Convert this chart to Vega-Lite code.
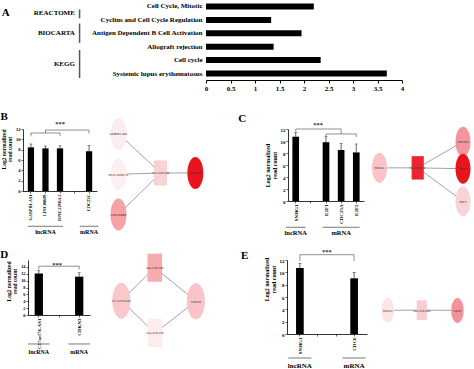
{
  "$schema": "https://vega.github.io/schema/vega-lite/v6.json",
  "padding": 0,
  "background": "white",
  "spacing": 5,
  "datasets": {
    "termA": [
      {"term": "Cell Cycle, Mitotic", "v": 2.2},
      {"term": "Cyclins and Cell Cycle Regulation", "v": 1.33},
      {"term": "Antigen Dependent B Cell Activation", "v": 1.95},
      {"term": "Allograft rejection", "v": 1.38},
      {"term": "Cell cycle", "v": 2.34},
      {"term": "Systemic lupus erythematosus", "v": 3.69}
    ],
    "dbA": [
      {"db": "REACTOME", "mid": 0.04, "lo": -0.24, "hi": 0.46},
      {"db": "BIOCARTA", "mid": 1.62, "lo": 0.88, "hi": 2.43},
      {"db": "KEGG", "mid": 4.1, "lo": 3.0, "hi": 5.24}
    ],
    "B": [
      {"gene": "GABPB1-AS1", "v": 8.45, "hi": 9.1},
      {"gene": "LINC00689", "v": 8.25, "hi": 8.7},
      {"gene": "RP11-529K1.2", "v": 8.25, "hi": 8.75},
      {"gene": "CDC25C", "v": 7.7, "hi": 8.8}
    ],
    "Bbr": [
      {"g": "a", "o": 1, "gene": "GABPB1-AS1", "y": 10.6},
      {"g": "a", "o": 2, "gene": "GABPB1-AS1", "y": 11.23},
      {"g": "a", "o": 3, "gene": "RP11-529K1.2", "y": 11.23},
      {"g": "a", "o": 4, "gene": "RP11-529K1.2", "y": 10.6},
      {"g": "b", "o": 1, "gene": "LINC00689", "y": 11.23},
      {"g": "b", "o": 2, "gene": "LINC00689", "y": 11.8},
      {"g": "b", "o": 3, "gene": "CDC25C", "y": 11.8},
      {"g": "b", "o": 4, "gene": "CDC25C", "y": 11.1}
    ],
    "Bgrp": [
      {"grp": "lncRNA", "from": "GABPB1-AS1", "to": "RP11-529K1.2", "mid": "LINC00689", "n": 3},
      {"grp": "mRNA", "from": "CDC25C", "to": "CDC25C", "mid": "CDC25C", "n": 1}
    ],
    "nodesB": [
      {"id": "GABPB1-AS1", "kind": "gene", "x": 22.5, "y": 5, "score": 0.02},
      {"id": "RP11-529K1.2", "kind": "gene", "x": 22.5, "y": 49, "score": 0},
      {"id": "LINC00689", "kind": "gene", "x": 22.5, "y": 92.5, "score": 0.35},
      {"id": "hsa-miR-23a", "kind": "mirna", "x": 66.5, "y": 47.5, "score": 0.14},
      {"id": "CDC25C", "kind": "gene", "x": 103, "y": 47.5, "score": 0.98}
    ],
    "edgesB": [
      {"s": "GABPB1-AS1", "t": "hsa-miR-23a"},
      {"s": "RP11-529K1.2", "t": "hsa-miR-23a"},
      {"s": "LINC00689", "t": "hsa-miR-23a"},
      {"s": "hsa-miR-23a", "t": "CDC25C"}
    ],
    "C": [
      {"gene": "SNHG1", "v": 10.72, "hi": 11.45},
      {"gene": "E2F1", "v": 9.8, "hi": 10.7},
      {"gene": "CDC25A", "v": 8.5, "hi": 9.6},
      {"gene": "E2F2", "v": 8.1, "hi": 9.5}
    ],
    "Cbr": [
      {"g": "a", "o": 1, "gene": "SNHG1", "y": 11.58},
      {"g": "a", "o": 2, "gene": "SNHG1", "y": 12.0},
      {"g": "a", "o": 3, "gene": "CDC25A", "y": 12.0},
      {"g": "a", "o": 4, "gene": "CDC25A", "y": 11.17},
      {"g": "b", "o": 1, "gene": "E2F1", "y": 10.67},
      {"g": "b", "o": 2, "gene": "E2F1", "y": 11.17},
      {"g": "b", "o": 3, "gene": "E2F2", "y": 11.17},
      {"g": "b", "o": 4, "gene": "E2F2", "y": 10.67}
    ],
    "Cgrp": [
      {"grp": "lncRNA", "from": "SNHG1", "to": "SNHG1", "mid": "SNHG1", "n": 1},
      {"grp": "mRNA", "from": "E2F1", "to": "E2F2", "mid": "CDC25A", "n": 3}
    ],
    "nodesC": [
      {"id": "SNHG1", "kind": "gene", "x": 15.5, "y": 42, "score": 0.2},
      {"id": "hsa-miR-16", "kind": "mirna", "x": 53.7, "y": 42, "score": 0.9},
      {"id": "CDC25A", "kind": "gene", "x": 99, "y": 13.7, "score": 0.4},
      {"id": "E2F1", "kind": "gene", "x": 99, "y": 43, "score": 0.98},
      {"id": "E2F2", "kind": "gene", "x": 99, "y": 78, "score": 0.13}
    ],
    "edgesC": [
      {"s": "SNHG1", "t": "hsa-miR-16"},
      {"s": "hsa-miR-16", "t": "CDC25A"},
      {"s": "hsa-miR-16", "t": "E2F1"},
      {"s": "hsa-miR-16", "t": "E2F2"}
    ],
    "D": [
      {"gene": "C17orf76-AS1", "v": 12.05, "hi": 12.9},
      {"gene": "CDKN3", "v": 11.15, "hi": 12.3}
    ],
    "Dbr": [
      {"g": "a", "o": 1, "gene": "C17orf76-AS1", "y": 13.26},
      {"g": "a", "o": 2, "gene": "C17orf76-AS1", "y": 14.2},
      {"g": "a", "o": 3, "gene": "CDKN3", "y": 14.2},
      {"g": "a", "o": 4, "gene": "CDKN3", "y": 13.26}
    ],
    "Dgrp": [
      {"grp": "lncRNA", "from": "C17orf76-AS1", "to": "C17orf76-AS1", "mid": "C17orf76-AS1", "n": 1},
      {"grp": "mRNA", "from": "CDKN3", "to": "CDKN3", "mid": "CDKN3", "n": 1}
    ],
    "nodesD": [
      {"id": "hsa-miR-195", "kind": "mirna", "x": 65.8, "y": 8.3, "score": 0.31},
      {"id": "C17orf76-AS1", "kind": "gene", "x": 31.8, "y": 44, "score": 0.18},
      {"id": "CDKN3", "kind": "gene", "x": 107.5, "y": 44.5, "score": 0.2},
      {"id": "hsa-miR-15b", "kind": "mirna", "x": 66, "y": 79, "score": 0.02}
    ],
    "edgesD": [
      {"s": "C17orf76-AS1", "t": "hsa-miR-195"},
      {"s": "hsa-miR-195", "t": "CDKN3"},
      {"s": "C17orf76-AS1", "t": "hsa-miR-15b"},
      {"s": "hsa-miR-15b", "t": "CDKN3"}
    ],
    "E": [
      {"gene": "SNHG1", "v": 10.7, "hi": 11.46},
      {"gene": "CDC6", "v": 9.03, "hi": 10.0}
    ],
    "Ebr": [
      {"g": "a", "o": 1, "gene": "SNHG1", "y": 11.84},
      {"g": "a", "o": 2, "gene": "SNHG1", "y": 12.86},
      {"g": "a", "o": 3, "gene": "CDC6", "y": 12.86},
      {"g": "a", "o": 4, "gene": "CDC6", "y": 11.84}
    ],
    "Egrp": [
      {"grp": "lncRNA", "from": "SNHG1", "to": "SNHG1", "mid": "SNHG1", "n": 1},
      {"grp": "mRNA", "from": "CDC6", "to": "CDC6", "mid": "CDC6", "n": 1}
    ],
    "nodesE": [
      {"id": "SNHG1", "kind": "gene", "x": 21.3, "y": 54.3, "score": 0.05},
      {"id": "hsa-miR-26b", "kind": "mirna", "x": 56.3, "y": 54.2, "score": 0.16},
      {"id": "CDC6", "kind": "gene", "x": 93, "y": 54.5, "score": 0.42}
    ],
    "edgesE": [
      {"s": "SNHG1", "t": "hsa-miR-26b"},
      {"s": "hsa-miR-26b", "t": "CDC6"}
    ]
  },
  "vconcat": [
    {
      "hconcat": [
        {
          "width": 206, "height": 100,
          "layer": [
            {"data": {"name": "dbA"}, "mark": {"type": "rule", "color": "#555", "strokeWidth": 1.5},
             "encoding": {"x": {"datum": 85, "type": "quantitative", "scale": {"domain": [0, 206]}, "axis": null},
                          "y": {"field": "lo", "type": "quantitative", "scale": {"domain": [-0.485, 6.978], "reverse": true}, "axis": null},
                          "y2": {"field": "hi"}}},
            {"data": {"name": "dbA"}, "mark": {"type": "text", "align": "right", "baseline": "middle", "fontSize": 7},
             "encoding": {"x": {"datum": 80, "type": "quantitative", "axis": null}, "y": {"field": "mid", "type": "quantitative", "axis": null}, "text": {"field": "db"}}},
            {"data": {"values": [{"t": "A"}]}, "mark": {"type": "text", "align": "left", "baseline": "middle", "fontSize": 11},
             "encoding": {"x": {"datum": 2, "type": "quantitative", "axis": null}, "y": {"datum": 0.07, "type": "quantitative", "axis": null}, "text": {"field": "t"}}}
          ]
        },
        {
          "width": 196, "height": 80,
          "data": {"name": "termA"},
          "mark": {"type": "bar", "color": "#000"},
          "encoding": {
            "y": {"field": "term", "type": "nominal", "sort": null, "scale": {"paddingInner": 0.55, "paddingOuter": 0.26},
                  "axis": {"title": null, "domain": false, "ticks": false, "labelPadding": 4, "labelFontSize": 7, "labelLimit": 300}},
            "x": {"field": "v", "type": "quantitative", "scale": {"domain": [0, 4]},
                  "axis": {"title": null, "values": [0, 0.5, 1, 1.5, 2, 2.5, 3, 3.5, 4], "tickCount": 20, "format": "~g", "labelFontSize": 7, "tickSize": 3, "labelPadding": 1, "domainWidth": 1, "labelFlush": false, "labelOverlap": false}}
          }
        }
      ],
      "spacing": 0, "bounds": "flush"
    },
    {
      "hconcat": [
        {
          "width": 23, "height": 62,
          "layer": [
            {"data": {"values": [{"t": "B"}]}, "mark": {"type": "text", "align": "left", "baseline": "middle", "fontSize": 11},
             "encoding": {"x": {"datum": 0.5, "type": "quantitative", "scale": {"domain": [0, 23]}, "axis": null},
                          "y": {"datum": -12.5, "type": "quantitative", "scale": {"domain": [0, 62], "reverse": true}, "axis": null},
                          "text": {"field": "t"}}},
            {"data": {"values": [{"a": 0}]}, "mark": {"type": "rect", "opacity": 0},
             "encoding": {"x": {"datum": 0, "type": "quantitative", "axis": null}, "x2": {"datum": 1},
                          "y": {"datum": -25, "type": "quantitative", "axis": null}, "y2": {"datum": 0}}}
          ]
        },
        {
          "width": 74, "height": 62,
          "layer": [
            {"data": {"name": "B"}, "mark": {"type": "bar", "color": "#000"},
             "encoding": {
               "x": {"field": "gene", "type": "nominal", "scale": {"domain": ["GABPB1-AS1", "LINC00689", "RP11-529K1.2", "_gap", "CDC25C"], "paddingInner": 0.57, "paddingOuter": 0.33},
                     "axis": {"title": null, "labelAngle": -90, "labelFontSize": 4.3, "labelExpr": "indexof(datum.label, '_') == 0 ? '' : datum.label", "tickSize": 2, "tickWidth": 0.6, "labelPadding": 1, "domainWidth": 0.8}},
               "y": {"field": "v", "type": "quantitative", "scale": {"domain": [0, 12]},
                     "axis": {"title": ["Log2 normalized", "read count"], "values": [0, 2, 4, 6, 8, 10, 12], "tickCount": 20, "format": "d", "labelFontSize": 4.6, "titleFontSize": 5.5, "titlePadding": 3, "titleLineHeight": 6, "titleY": 20, "tickSize": 2, "tickWidth": 0.6, "labelPadding": 1, "domainWidth": 0.8, "labelOverlap": false}}}},
            {"data": {"name": "B"}, "mark": {"type": "rule", "color": "#000", "strokeWidth": 0.6},
             "encoding": {"x": {"field": "gene", "type": "nominal"}, "y": {"field": "v", "type": "quantitative"}, "y2": {"field": "hi"}}},
            {"data": {"name": "B"}, "mark": {"type": "tick", "color": "#000", "thickness": 0.6, "size": 3},
             "encoding": {"x": {"field": "gene", "type": "nominal"}, "y": {"field": "hi", "type": "quantitative"}}},
            {"data": {"name": "Bbr"}, "mark": {"type": "line", "color": "#444", "strokeWidth": 0.6},
             "encoding": {"x": {"field": "gene", "type": "nominal"}, "y": {"field": "y", "type": "quantitative"}, "detail": {"field": "g"}, "order": {"field": "o"}}},
            {"data": {"values": [{"gene": "RP11-529K1.2"}]}, "mark": {"type": "text", "text": "***", "baseline": "alphabetic", "fontSize": 6.5, "color": "#333"},
             "encoding": {"x": {"field": "gene", "type": "nominal"}, "y": {"datum": 12.58}}},
            {"data": {"name": "Bgrp"}, "transform": [{"filter": "datum.n > 1"}], "mark": {"type": "rule", "color": "#555", "strokeWidth": 0.8},
             "encoding": {"x": {"field": "from", "type": "nominal", "bandPosition": 0}, "x2": {"field": "to", "bandPosition": 1}, "y": {"datum": -6.83}}},
            {"data": {"name": "Bgrp"}, "transform": [{"filter": "datum.n == 1"}], "mark": {"type": "rule", "color": "#555", "strokeWidth": 0.8},
             "encoding": {"x": {"field": "from", "type": "nominal", "bandPosition": -1}, "x2": {"field": "to", "bandPosition": 2}, "y": {"datum": -6.83}}},
            {"data": {"name": "Bgrp"}, "mark": {"type": "text", "fontSize": 6, "baseline": "middle"},
             "encoding": {"x": {"field": "mid", "type": "nominal"}, "y": {"datum": -7.9}, "text": {"field": "grp"}}}
          ]
        },
        {
          "width": 191, "height": 111,
          "layer": [
            {"data": {"name": "edgesB"},
             "transform": [
               {"lookup": "s", "from": {"data": {"name": "nodesB"}, "key": "id", "fields": ["x", "y"]}, "as": ["sx", "sy"]},
               {"lookup": "t", "from": {"data": {"name": "nodesB"}, "key": "id", "fields": ["x", "y"]}, "as": ["tx", "ty"]}
             ],
             "mark": {"type": "rule", "color": "#8a8a8a", "strokeWidth": 0.8},
             "encoding": {"x": {"field": "sx", "type": "quantitative", "scale": {"domain": [0, 191]}, "axis": null},
                          "y": {"field": "sy", "type": "quantitative", "scale": {"domain": [0, 111], "reverse": true}, "axis": null},
                          "x2": {"field": "tx"}, "y2": {"field": "ty"}}},
            {"data": {"name": "nodesB"}, "mark": {"type": "point", "filled": true, "opacity": 1, "size": 1024, "strokeWidth": 0},
             "encoding": {"x": {"field": "x", "type": "quantitative", "axis": null}, "y": {"field": "y", "type": "quantitative", "axis": null},
                          "shape": {"field": "kind", "type": "nominal", "scale": {"domain": ["gene", "mirna"], "range": ["M-0.5,0A0.5,1 0 1,0 0.5,0A0.5,1 0 1,0 -0.5,0Z", "M-0.406,-0.781H0.406V0.781H-0.406Z"]}, "legend": null},
                          "color": {"field": "score", "type": "quantitative", "scale": {"domain": [0, 1], "range": ["#fdf0f2", "#e8101a"], "interpolate": "rgb"}, "legend": null}}},
            {"data": {"name": "nodesB"}, "mark": {"type": "text", "font": "DejaVu Sans", "fontWeight": "normal", "fontSize": 2.8, "color": "#333"},
             "encoding": {"x": {"field": "x", "type": "quantitative", "axis": null}, "y": {"field": "y", "type": "quantitative", "axis": null}, "text": {"field": "id"}}},
            {"data": {"values": [{"t": "C"}]}, "mark": {"type": "text", "align": "left", "baseline": "middle", "fontSize": 11},
             "encoding": {"x": {"datum": 148, "type": "quantitative", "axis": null}, "y": {"datum": -11.2, "type": "quantitative", "axis": null}, "text": {"field": "t"}}}
          ]
        },
        {
          "width": 76, "height": 72,
          "layer": [
            {"data": {"name": "C"}, "mark": {"type": "bar", "color": "#000"},
             "encoding": {
               "x": {"field": "gene", "type": "nominal", "scale": {"domain": ["SNHG1", "_gap", "E2F1", "CDC25A", "E2F2"], "paddingInner": 0.56, "paddingOuter": 0.29},
                     "axis": {"title": null, "labelAngle": -90, "labelFontSize": 5, "labelExpr": "indexof(datum.label, '_') == 0 ? '' : datum.label", "tickSize": 2, "tickWidth": 0.6, "labelPadding": 1, "domainWidth": 0.8}},
               "y": {"field": "v", "type": "quantitative", "scale": {"domain": [0, 12]},
                     "axis": {"title": ["Log2 normalized", "read count"], "values": [0, 2, 4, 6, 8, 10, 12], "tickCount": 20, "format": "d", "labelFontSize": 5, "titleFontSize": 6, "titlePadding": 3, "titleLineHeight": 6.5, "tickSize": 2, "tickWidth": 0.6, "labelPadding": 1, "domainWidth": 0.8, "labelOverlap": false}}}},
            {"data": {"name": "C"}, "mark": {"type": "rule", "color": "#000", "strokeWidth": 0.6},
             "encoding": {"x": {"field": "gene", "type": "nominal"}, "y": {"field": "v", "type": "quantitative"}, "y2": {"field": "hi"}}},
            {"data": {"name": "C"}, "mark": {"type": "tick", "color": "#000", "thickness": 0.6, "size": 3},
             "encoding": {"x": {"field": "gene", "type": "nominal"}, "y": {"field": "hi", "type": "quantitative"}}},
            {"data": {"name": "Cbr"}, "mark": {"type": "line", "color": "#444", "strokeWidth": 0.6},
             "encoding": {"x": {"field": "gene", "type": "nominal"}, "y": {"field": "y", "type": "quantitative"}, "detail": {"field": "g"}, "order": {"field": "o"}}},
            {"data": {"values": [{"gene": "E2F1"}]}, "mark": {"type": "text", "text": "***", "baseline": "alphabetic", "fontSize": 6.5, "color": "#333", "dx": -8},
             "encoding": {"x": {"field": "gene", "type": "nominal"}, "y": {"datum": 12.33}}},
            {"data": {"name": "Cgrp"}, "transform": [{"filter": "datum.n > 1"}], "mark": {"type": "rule", "color": "#555", "strokeWidth": 0.8},
             "encoding": {"x": {"field": "from", "type": "nominal", "bandPosition": 0}, "x2": {"field": "to", "bandPosition": 1}, "y": {"datum": -4.38}}},
            {"data": {"name": "Cgrp"}, "transform": [{"filter": "datum.n == 1"}], "mark": {"type": "rule", "color": "#555", "strokeWidth": 0.8},
             "encoding": {"x": {"field": "from", "type": "nominal", "bandPosition": -1}, "x2": {"field": "to", "bandPosition": 2}, "y": {"datum": -4.38}}},
            {"data": {"name": "Cgrp"}, "mark": {"type": "text", "fontSize": 6.5, "baseline": "middle"},
             "encoding": {"x": {"field": "mid", "type": "nominal"}, "y": {"datum": -5.38}, "text": {"field": "grp"}}}
          ]
        },
        {
          "width": 110, "height": 111,
          "layer": [
            {"data": {"name": "edgesC"},
             "transform": [
               {"lookup": "s", "from": {"data": {"name": "nodesC"}, "key": "id", "fields": ["x", "y"]}, "as": ["sx", "sy"]},
               {"lookup": "t", "from": {"data": {"name": "nodesC"}, "key": "id", "fields": ["x", "y"]}, "as": ["tx", "ty"]}
             ],
             "mark": {"type": "rule", "color": "#8a8a8a", "strokeWidth": 0.8},
             "encoding": {"x": {"field": "sx", "type": "quantitative", "scale": {"domain": [0, 110]}, "axis": null},
                          "y": {"field": "sy", "type": "quantitative", "scale": {"domain": [0, 111], "reverse": true}, "axis": null},
                          "x2": {"field": "tx"}, "y2": {"field": "ty"}}},
            {"data": {"name": "nodesC"}, "mark": {"type": "point", "filled": true, "opacity": 1, "size": 900, "strokeWidth": 0},
             "encoding": {"x": {"field": "x", "type": "quantitative", "axis": null}, "y": {"field": "y", "type": "quantitative", "axis": null},
                          "shape": {"field": "kind", "type": "nominal", "scale": {"domain": ["gene", "mirna"], "range": ["M-0.7,0A0.7,1 0 1,0 0.7,0A0.7,1 0 1,0 -0.7,0Z", "M-0.443,-0.577H0.443V0.577H-0.443Z"]}, "legend": null},
                          "color": {"field": "score", "type": "quantitative", "scale": {"domain": [0, 1], "range": ["#fdf0f2", "#e8101a"], "interpolate": "rgb"}, "legend": null}}},
            {"data": {"name": "nodesC"}, "mark": {"type": "text", "font": "DejaVu Sans", "fontWeight": "normal", "fontSize": 2.8, "color": "#333"},
             "encoding": {"x": {"field": "x", "type": "quantitative", "axis": null}, "y": {"field": "y", "type": "quantitative", "axis": null}, "text": {"field": "id"}}}
          ]
        }
      ],
      "spacing": 0, "bounds": "flush"
    },
    {
      "hconcat": [
        {
          "width": 28, "height": 55,
          "layer": [
            {"data": {"values": [{"t": "D"}]}, "mark": {"type": "text", "align": "left", "baseline": "middle", "fontSize": 11},
             "encoding": {"x": {"datum": 0.3, "type": "quantitative", "scale": {"domain": [0, 28]}, "axis": null},
                          "y": {"datum": -5.2, "type": "quantitative", "scale": {"domain": [0, 55], "reverse": true}, "axis": null},
                          "text": {"field": "t"}}},
            {"data": {"values": [{"a": 0}]}, "mark": {"type": "rect", "opacity": 0},
             "encoding": {"x": {"datum": 0, "type": "quantitative", "axis": null}, "x2": {"datum": 1},
                          "y": {"datum": -15, "type": "quantitative", "axis": null}, "y2": {"datum": 0}}}
          ]
        },
        {
          "width": 62, "height": 55,
          "layer": [
            {"data": {"name": "D"}, "mark": {"type": "bar", "color": "#000"},
             "encoding": {
               "x": {"field": "gene", "type": "nominal", "scale": {"domain": ["C17orf76-AS1", "_gap", "CDKN3"], "paddingInner": 0.59, "paddingOuter": 0.33},
                     "axis": {"title": null, "labelAngle": -90, "labelFontSize": 5, "labelExpr": "indexof(datum.label, '_') == 0 ? '' : datum.label", "tickSize": 2, "tickWidth": 0.6, "labelPadding": 1, "domainWidth": 0.8}},
               "y": {"field": "v", "type": "quantitative", "scale": {"domain": [0, 15.1]},
                     "axis": {"title": ["Log2 normalized", "read count"], "values": [0, 2, 4, 6, 8, 10, 12, 14], "tickCount": 20, "format": "d", "labelFontSize": 4.3, "titleFontSize": 5.5, "titlePadding": 3, "titleLineHeight": 6, "titleY": 21, "tickSize": 2, "tickWidth": 0.6, "labelPadding": 1, "domainWidth": 0.8, "labelOverlap": false}}}},
            {"data": {"name": "D"}, "mark": {"type": "rule", "color": "#000", "strokeWidth": 0.6},
             "encoding": {"x": {"field": "gene", "type": "nominal"}, "y": {"field": "v", "type": "quantitative"}, "y2": {"field": "hi"}}},
            {"data": {"name": "D"}, "mark": {"type": "tick", "color": "#000", "thickness": 0.6, "size": 3},
             "encoding": {"x": {"field": "gene", "type": "nominal"}, "y": {"field": "hi", "type": "quantitative"}}},
            {"data": {"name": "Dbr"}, "mark": {"type": "line", "color": "#444", "strokeWidth": 0.6},
             "encoding": {"x": {"field": "gene", "type": "nominal"}, "y": {"field": "y", "type": "quantitative"}, "detail": {"field": "g"}, "order": {"field": "o"}}},
            {"data": {"values": [{"gene": "_gap"}]}, "mark": {"type": "text", "text": "***", "baseline": "alphabetic", "fontSize": 6.5, "color": "#333", "dx": -2},
             "encoding": {"x": {"field": "gene", "type": "nominal"}, "y": {"datum": 14.08}}},
            {"data": {"name": "Dgrp"}, "transform": [{"filter": "datum.n == 1"}], "mark": {"type": "rule", "color": "#555", "strokeWidth": 0.8},
             "encoding": {"x": {"field": "from", "type": "nominal", "bandPosition": -0.8}, "x2": {"field": "to", "bandPosition": 1.8}, "y": {"datum": -8.43}}},
            {"data": {"name": "Dgrp"}, "mark": {"type": "text", "fontSize": 6, "baseline": "middle"},
             "encoding": {"x": {"field": "mid", "type": "nominal"}, "y": {"datum": -10.71}, "text": {"field": "grp"}}}
          ]
        },
        {
          "width": 197, "height": 74,
          "layer": [
            {"data": {"name": "edgesD"},
             "transform": [
               {"lookup": "s", "from": {"data": {"name": "nodesD"}, "key": "id", "fields": ["x", "y"]}, "as": ["sx", "sy"]},
               {"lookup": "t", "from": {"data": {"name": "nodesD"}, "key": "id", "fields": ["x", "y"]}, "as": ["tx", "ty"]}
             ],
             "mark": {"type": "rule", "color": "#8a8a8a", "strokeWidth": 0.8},
             "encoding": {"x": {"field": "sx", "type": "quantitative", "scale": {"domain": [0, 197]}, "axis": null},
                          "y": {"field": "sy", "type": "quantitative", "scale": {"domain": [0, 74], "reverse": true}, "axis": null},
                          "x2": {"field": "tx"}, "y2": {"field": "ty"}}},
            {"data": {"name": "nodesD"}, "mark": {"type": "point", "filled": true, "opacity": 1, "size": 1296, "strokeWidth": 0},
             "encoding": {"x": {"field": "x", "type": "quantitative", "axis": null}, "y": {"field": "y", "type": "quantitative", "axis": null},
                          "shape": {"field": "kind", "type": "nominal", "scale": {"domain": ["gene", "mirna"], "range": ["M-0.556,0A0.556,1 0 1,0 0.556,0A0.556,1 0 1,0 -0.556,0Z", "M-0.38,-0.556H0.38V0.556H-0.38Z"]}, "legend": null},
                          "color": {"field": "score", "type": "quantitative", "scale": {"domain": [0, 1], "range": ["#fdf0f2", "#e8101a"], "interpolate": "rgb"}, "legend": null}}},
            {"data": {"name": "nodesD"}, "mark": {"type": "text", "font": "DejaVu Sans", "fontWeight": "normal", "fontSize": 2.8, "color": "#333"},
             "encoding": {"x": {"field": "x", "type": "quantitative", "axis": null}, "y": {"field": "y", "type": "quantitative", "axis": null}, "text": {"field": "id"}}},
            {"data": {"values": [{"t": "E"}]}, "mark": {"type": "text", "align": "left", "baseline": "middle", "fontSize": 11},
             "encoding": {"x": {"datum": 153.3, "type": "quantitative", "axis": null}, "y": {"datum": -4.7, "type": "quantitative", "axis": null}, "text": {"field": "t"}}}
          ]
        },
        {
          "width": 80, "height": 74,
          "layer": [
            {"data": {"name": "E"}, "mark": {"type": "bar", "color": "#000"},
             "encoding": {
               "x": {"field": "gene", "type": "nominal", "scale": {"domain": ["SNHG1", "_g1", "_g2", "CDC6"], "paddingInner": 0.575, "paddingOuter": 0.5},
                     "axis": {"title": null, "labelAngle": -90, "labelFontSize": 5, "labelExpr": "indexof(datum.label, '_') == 0 ? '' : datum.label", "tickSize": 2, "tickWidth": 0.6, "labelPadding": 1, "domainWidth": 0.8}},
               "y": {"field": "v", "type": "quantitative", "scale": {"domain": [0, 12]},
                     "axis": {"title": ["Log2 normalized", "read count"], "values": [0, 2, 4, 6, 8, 10, 12], "tickCount": 20, "format": "d", "labelFontSize": 5, "titleFontSize": 6, "titlePadding": 3, "titleLineHeight": 6.5, "titleY": 19, "tickSize": 2, "tickWidth": 0.6, "labelPadding": 1, "domainWidth": 0.8, "labelOverlap": false}}}},
            {"data": {"name": "E"}, "mark": {"type": "rule", "color": "#000", "strokeWidth": 0.6},
             "encoding": {"x": {"field": "gene", "type": "nominal"}, "y": {"field": "v", "type": "quantitative"}, "y2": {"field": "hi"}}},
            {"data": {"name": "E"}, "mark": {"type": "tick", "color": "#000", "thickness": 0.6, "size": 3},
             "encoding": {"x": {"field": "gene", "type": "nominal"}, "y": {"field": "hi", "type": "quantitative"}}},
            {"data": {"name": "Ebr"}, "mark": {"type": "line", "color": "#444", "strokeWidth": 0.6},
             "encoding": {"x": {"field": "gene", "type": "nominal"}, "y": {"field": "y", "type": "quantitative"}, "detail": {"field": "g"}, "order": {"field": "o"}}},
            {"data": {"values": [{"gene": "_g1"}]}, "mark": {"type": "text", "text": "***", "baseline": "alphabetic", "fontSize": 6.5, "color": "#333", "dx": 9},
             "encoding": {"x": {"field": "gene", "type": "nominal"}, "y": {"datum": 12.97}}},
            {"data": {"name": "Egrp"}, "transform": [{"filter": "datum.n == 1"}], "mark": {"type": "rule", "color": "#555", "strokeWidth": 0.8},
             "encoding": {"x": {"field": "from", "type": "nominal", "bandPosition": -1}, "x2": {"field": "to", "bandPosition": 2}, "y": {"datum": -3.89}}},
            {"data": {"name": "Egrp"}, "mark": {"type": "text", "fontSize": 7, "baseline": "middle"},
             "encoding": {"x": {"field": "mid", "type": "nominal"}, "y": {"datum": -5.14}, "text": {"field": "grp"}}}
          ]
        },
        {
          "width": 107, "height": 74,
          "layer": [
            {"data": {"name": "edgesE"},
             "transform": [
               {"lookup": "s", "from": {"data": {"name": "nodesE"}, "key": "id", "fields": ["x", "y"]}, "as": ["sx", "sy"]},
               {"lookup": "t", "from": {"data": {"name": "nodesE"}, "key": "id", "fields": ["x", "y"]}, "as": ["tx", "ty"]}
             ],
             "mark": {"type": "rule", "color": "#8a8a8a", "strokeWidth": 0.8},
             "encoding": {"x": {"field": "sx", "type": "quantitative", "scale": {"domain": [0, 107]}, "axis": null},
                          "y": {"field": "sy", "type": "quantitative", "scale": {"domain": [0, 74], "reverse": true}, "axis": null},
                          "x2": {"field": "tx"}, "y2": {"field": "ty"}}},
            {"data": {"name": "nodesE"}, "mark": {"type": "point", "filled": true, "opacity": 1, "size": 625, "strokeWidth": 0},
             "encoding": {"x": {"field": "x", "type": "quantitative", "axis": null}, "y": {"field": "y", "type": "quantitative", "axis": null},
                          "shape": {"field": "kind", "type": "nominal", "scale": {"domain": ["gene", "mirna"], "range": ["M-0.8,0A0.8,1 0 1,0 0.8,0A0.8,1 0 1,0 -0.8,0Z", "M-0.532,-0.6H0.532V0.6H-0.532Z"]}, "legend": null},
                          "color": {"field": "score", "type": "quantitative", "scale": {"domain": [0, 1], "range": ["#fdf0f2", "#e8101a"], "interpolate": "rgb"}, "legend": null}}},
            {"data": {"name": "nodesE"}, "mark": {"type": "text", "font": "DejaVu Sans", "fontWeight": "normal", "fontSize": 2.8, "color": "#333"},
             "encoding": {"x": {"field": "x", "type": "quantitative", "axis": null}, "y": {"field": "y", "type": "quantitative", "axis": null}, "text": {"field": "id"}}}
          ]
        }
      ],
      "spacing": 0, "bounds": "flush"
    }
  ],
  "config": {
    "view": {"stroke": null},
    "axis": {"labelFont": "Liberation Serif", "labelFontWeight": "bold", "titleFont": "Liberation Serif", "titleFontWeight": "bold", "labelColor": "#000", "titleColor": "#000", "domainColor": "#000", "tickColor": "#000", "grid": false},
    "text": {"font": "Liberation Serif", "fontWeight": "bold", "color": "#000"}
  }
}
